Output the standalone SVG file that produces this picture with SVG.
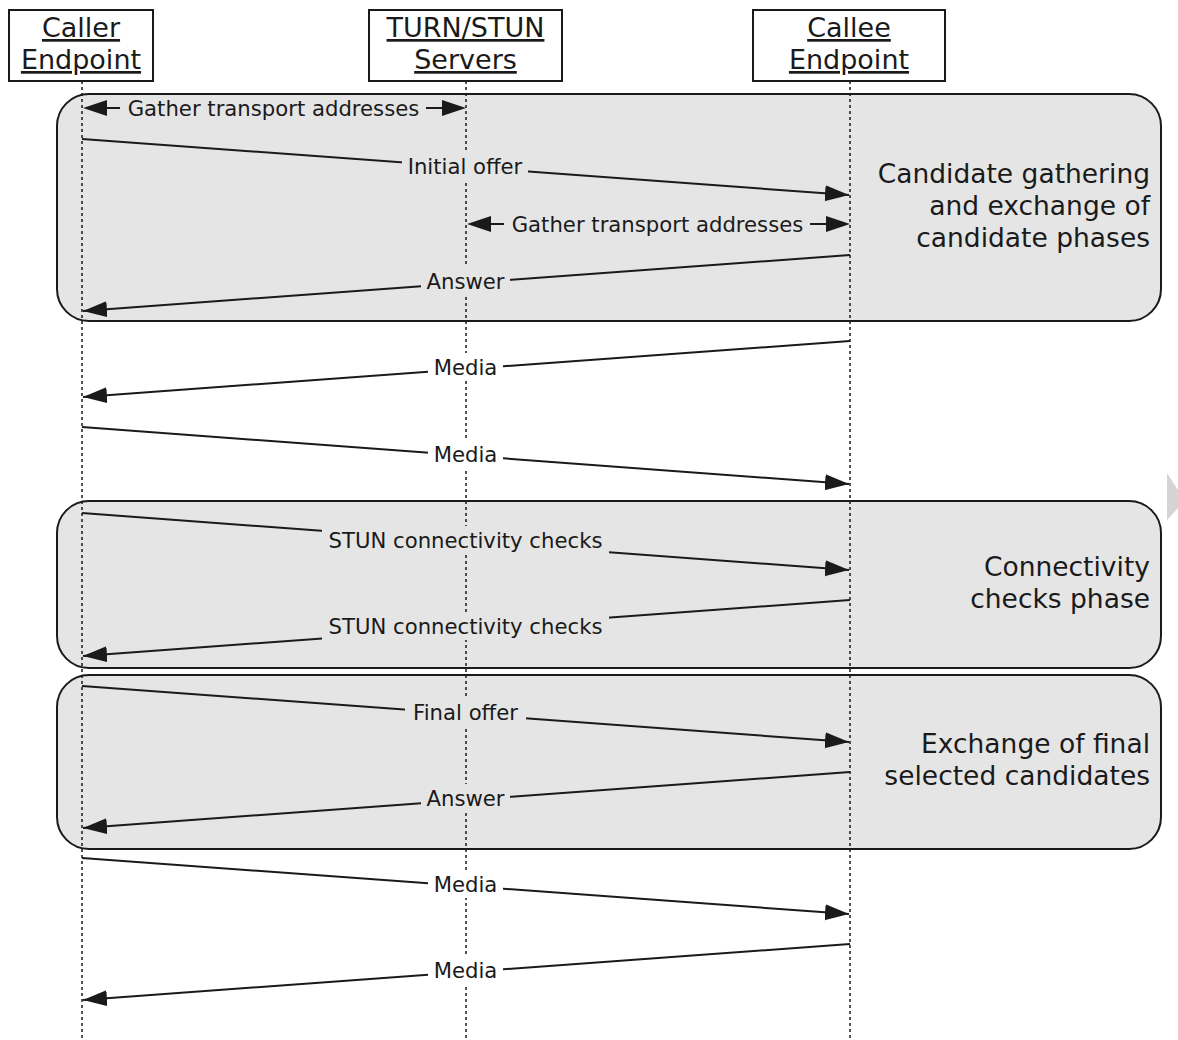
<svg xmlns="http://www.w3.org/2000/svg" width="1178" height="1040" viewBox="0 0 1178 1040">
<defs>
<style>
.box{fill:#fff;stroke:#1a1a1a;stroke-width:2}
.phase{fill:#e5e5e5;stroke:#1a1a1a;stroke-width:2}
.life{stroke:#1a1a1a;stroke-width:1.5;stroke-dasharray:3 3;fill:none}
.msg{stroke:#1a1a1a;stroke-width:2;fill:none;marker-end:url(#ah)}
.seg{stroke:#1a1a1a;stroke-width:2;fill:none}
.head{fill:#1a1a1a}
.hdr{font-family:"DejaVu Sans",Verdana,sans-serif;font-size:27px;fill:#1a1a1a;text-anchor:middle;text-decoration:underline}
.ph{font-family:"DejaVu Sans",Verdana,sans-serif;font-size:26.5px;fill:#1a1a1a;text-anchor:end}
.lbl{font-family:"DejaVu Sans",Verdana,sans-serif;font-size:21.2px;fill:#1a1a1a;text-anchor:middle;dominant-baseline:central}
.bgg{fill:#e5e5e5}
.bgw{fill:#fff}
</style>
<marker id="ah" markerUnits="userSpaceOnUse" markerWidth="26" markerHeight="18" refX="24" refY="8" orient="auto">
<path d="M0,0 L24,8 L0,16 z" fill="#1a1a1a"/>
</marker>
</defs>
<rect width="1178" height="1040" fill="#fff"/>

<g id="phases">
<rect id="phase1" class="phase" x="57" y="94" width="1104" height="227" rx="32"/>
<rect id="phase2" class="phase" x="57" y="501" width="1104" height="167" rx="32"/>
<rect id="phase3" class="phase" x="57" y="675" width="1104" height="174" rx="32"/>
<text class="ph" x="1150" y="183">Candidate gathering</text>
<text class="ph" x="1150" y="215">and exchange of</text>
<text class="ph" x="1150" y="247">candidate phases</text>
<text class="ph" x="1150" y="576">Connectivity</text>
<text class="ph" x="1150" y="608">checks phase</text>
<text class="ph" x="1150" y="753">Exchange of final</text>
<text class="ph" x="1150" y="785">selected candidates</text>
</g>

<polygon points="1167,473 1178,490 1178,508 1167,520" fill="#d4d4d4"/>

<g id="lifelines">
<line class="life" x1="82" y1="81" x2="82" y2="1040"/>
<line class="life" x1="466" y1="81" x2="466" y2="1040"/>
<line class="life" x1="850" y1="81" x2="850" y2="1040"/>
</g>

<g id="caller">
<rect class="box" x="9" y="10" width="144" height="71"/>
<text class="hdr" x="81" y="37">Caller</text>
<text class="hdr" x="81" y="69">Endpoint</text>
</g>
<g id="turn">
<rect class="box" x="369" y="10" width="193" height="71"/>
<text class="hdr" x="465.5" y="37">TURN/STUN</text>
<text class="hdr" x="465.5" y="69">Servers</text>
</g>
<g id="callee">
<rect class="box" x="753" y="10" width="192" height="71"/>
<text class="hdr" x="849" y="37">Callee</text>
<text class="hdr" x="849" y="69">Endpoint</text>
</g>

<g id="connectors">
<!-- Gather 1 -->
<polygon class="head" points="83,108 107,100 107,116"/>
<line class="seg" x1="107" y1="108" x2="120" y2="108"/>
<line class="seg" x1="426" y1="108" x2="442" y2="108"/>
<polygon class="head" points="466,108 442,100 442,116"/>
<text class="lbl" x="273.5" y="108">Gather transport addresses</text>
<!-- Initial offer -->
<line class="msg" x1="82" y1="139" x2="849" y2="195"/>
<rect class="bgg" x="402" y="152" width="126" height="28"/>
<text class="lbl" x="465" y="166">Initial offer</text>
<!-- Gather 2 -->
<polygon class="head" points="467,224 491,216 491,232"/>
<line class="seg" x1="491" y1="224" x2="504" y2="224"/>
<line class="seg" x1="810" y1="224" x2="826" y2="224"/>
<polygon class="head" points="850,224 826,216 826,232"/>
<text class="lbl" x="657.5" y="224">Gather transport addresses</text>
<!-- Answer 1 -->
<line class="msg" x1="850" y1="255" x2="83" y2="311"/>
<rect class="bgg" x="421" y="267" width="89" height="28"/>
<text class="lbl" x="465.5" y="281">Answer</text>
<!-- Media 1 -->
<line class="msg" x1="850" y1="341" x2="83" y2="397"/>
<rect class="bgw" x="428" y="353" width="75" height="28"/>
<text class="lbl" x="465.5" y="367">Media</text>
<!-- Media 2 -->
<line class="msg" x1="82" y1="427" x2="849" y2="484"/>
<rect class="bgw" x="428" y="440" width="75" height="28"/>
<text class="lbl" x="465.5" y="454">Media</text>
<!-- STUN 1 -->
<line class="msg" x1="82" y1="513" x2="849" y2="570"/>
<rect class="bgg" x="322" y="526" width="287" height="28"/>
<text class="lbl" x="465.5" y="540">STUN connectivity checks</text>
<!-- STUN 2 -->
<line class="msg" x1="850" y1="600" x2="83" y2="656"/>
<rect class="bgg" x="322" y="612" width="287" height="28"/>
<text class="lbl" x="465.5" y="626">STUN connectivity checks</text>
<!-- Final offer -->
<line class="msg" x1="82" y1="686" x2="849" y2="742"/>
<rect class="bgg" x="405" y="698" width="121" height="28"/>
<text class="lbl" x="465.5" y="712">Final offer</text>
<!-- Answer 2 -->
<line class="msg" x1="850" y1="772" x2="83" y2="828"/>
<rect class="bgg" x="421" y="784" width="89" height="28"/>
<text class="lbl" x="465.5" y="798">Answer</text>
<!-- Media 3 -->
<line class="msg" x1="82" y1="858" x2="849" y2="914"/>
<rect class="bgw" x="428" y="870" width="75" height="28"/>
<text class="lbl" x="465.5" y="884">Media</text>
<!-- Media 4 -->
<line class="msg" x1="850" y1="944" x2="83" y2="1000"/>
<rect class="bgw" x="428" y="956" width="75" height="28"/>
<text class="lbl" x="465.5" y="970">Media</text>
</g>
</svg>
